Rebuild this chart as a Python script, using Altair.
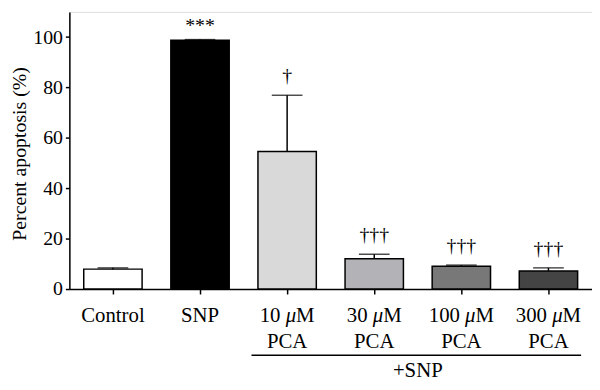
import altair as alt
import pandas as pd

# ---- data ----
categories = ["Control", "SNP", "10 μM PCA", "30 μM PCA", "100 μM PCA", "300 μM PCA"]
means = [7.9, 98.7, 54.6, 12.0, 9.0, 7.2]
errors = [0.5, 0.3, 22.3, 1.8, 0.5, 1.2]
marks = ["", "***", "†", "†††", "†††", "†††"]
fills = ["#ffffff", "#000000", "#d9d9d9", "#b3b3b7", "#787878", "#444444"]
line1 = ["Control", "SNP", "", "", "", ""]
numbers = ["", "", "10", "30", "100", "300"]
line2 = ["", "", "PCA", "PCA", "PCA", "PCA"]
y_ticks = [0, 20, 40, 60, 80, 100]
group_label = "+SNP"

df = pd.DataFrame({
    "cat": categories,
    "mean": means,
    "err": errors,
    "sig": marks,
    "fill": fills,
    "line1": line1,
    "num": numbers,
    "line2": line2,
})
df["top"] = df["mean"] + df["err"]

FONT = "Liberation Serif"
LBL = 21

xenc = alt.X("cat:N", sort=categories,
             scale=alt.Scale(paddingInner=0.33, paddingOuter=0.165),
             axis=alt.Axis(labels=False, title=None, ticks=True, tickSize=5,
                           tickWidth=1.5, tickColor="black", domainColor="black",
                           domainWidth=1.5, grid=False))
yscale = alt.Scale(domain=[0, 110], nice=False)

base = alt.Chart(df)

bars = base.mark_bar(stroke="black", strokeWidth=1.5).encode(
    x=xenc,
    y=alt.Y("mean:Q", scale=yscale,
            axis=alt.Axis(values=y_ticks, title="Percent apoptosis (%)", grid=False,
                          tickSize=4, tickWidth=1.5, tickColor="black",
                          domainColor="black", domainWidth=1.5,
                          labelFont=FONT, labelFontSize=20, labelColor="black",
                          labelPadding=3,
                          titleFont=FONT, titleFontSize=20, titleFontWeight="normal",
                          titleColor="black", titleAngle=-90, titleBaseline="alphabetic",
                          titleAlign="center", titleX=-44, titleY=143)),
    fill=alt.Fill("fill:N", scale=None),
)

err_rule = base.mark_rule(color="black", strokeWidth=1.5).encode(
    x=alt.X("cat:N", sort=categories),
    y=alt.Y("mean:Q", scale=yscale),
    y2="top:Q",
)

caps = base.mark_tick(color="black", thickness=1.5, size=31).encode(
    x=alt.X("cat:N", sort=categories),
    y=alt.Y("top:Q", scale=yscale),
)

stars = base.transform_filter("datum.sig == '***'").mark_text(
    font=FONT, fontSize=20, baseline="bottom", dy=-4, color="black"
).encode(x=alt.X("cat:N", sort=categories), y=alt.Y("top:Q", scale=yscale), text="sig:N")

daggers = base.transform_filter("indexof(datum.sig, '†') >= 0").mark_text(
    font=FONT, fontSize=20, baseline="bottom", dy=-9, color="black"
).encode(x=alt.X("cat:N", sort=categories), y=alt.Y("top:Q", scale=yscale), text="sig:N")

Y1 = 313
Y2 = 340

plain_lbl = base.transform_filter("datum.line1 != ''").mark_text(
    font=FONT, fontSize=LBL, baseline="alphabetic", color="black"
).encode(x=alt.X("cat:N", sort=categories), y=alt.value(Y1), text="line1:N")

def conc_layers(ndig, dx_num, dx_mu, dx_m):
    b = base.transform_filter(f"length(datum.num) == {ndig}")
    num = b.mark_text(font=FONT, fontSize=LBL, baseline="alphabetic", align="right",
                      dx=dx_num, color="black").encode(
        x=alt.X("cat:N", sort=categories), y=alt.value(Y1), text="num:N")
    mu = b.transform_calculate(mu="'μ'").mark_text(
        font=FONT, fontSize=LBL, fontStyle="italic", baseline="alphabetic",
        align="left", dx=dx_mu, color="black").encode(
        x=alt.X("cat:N", sort=categories), y=alt.value(Y1), text="mu:N")
    m = b.transform_calculate(mm="'M'").mark_text(
        font=FONT, fontSize=LBL, baseline="alphabetic", align="left",
        dx=dx_m, color="black").encode(
        x=alt.X("cat:N", sort=categories), y=alt.value(Y1), text="mm:N")
    return [num, mu, m]

two = conc_layers(2, -6.7, -1.45, 9.05)
three = conc_layers(3, -1.45, 3.8, 14.3)

pca = base.transform_filter("datum.line2 != ''").mark_text(
    font=FONT, fontSize=LBL, baseline="alphabetic", color="black"
).encode(x=alt.X("cat:N", sort=categories), y=alt.value(Y2), text="line2:N")

group_line = alt.Chart(pd.DataFrame({"a": [0]})).mark_rule(
    color="black", strokeWidth=1.5
).encode(x=alt.value(184), x2=alt.value(517), y=alt.value(347))

group_text = alt.Chart(pd.DataFrame({"t": [group_label]})).mark_text(
    font=FONT, fontSize=LBL, baseline="alphabetic", color="black"
).encode(x=alt.value(352), y=alt.value(369), text="t:N")

chart = alt.layer(
    bars, err_rule, caps, stars, daggers, plain_lbl, *two, *three, pca,
    group_line, group_text
).properties(
    width=528, height=280,
    autosize=alt.AutoSizeParams(type="none"),
    padding={"left": 62, "top": 2, "right": 0, "bottom": 92},
).configure_view(stroke=None).configure(background="white")

chart.save("out.html", embed_options={"renderer": "svg", "actions": False})
